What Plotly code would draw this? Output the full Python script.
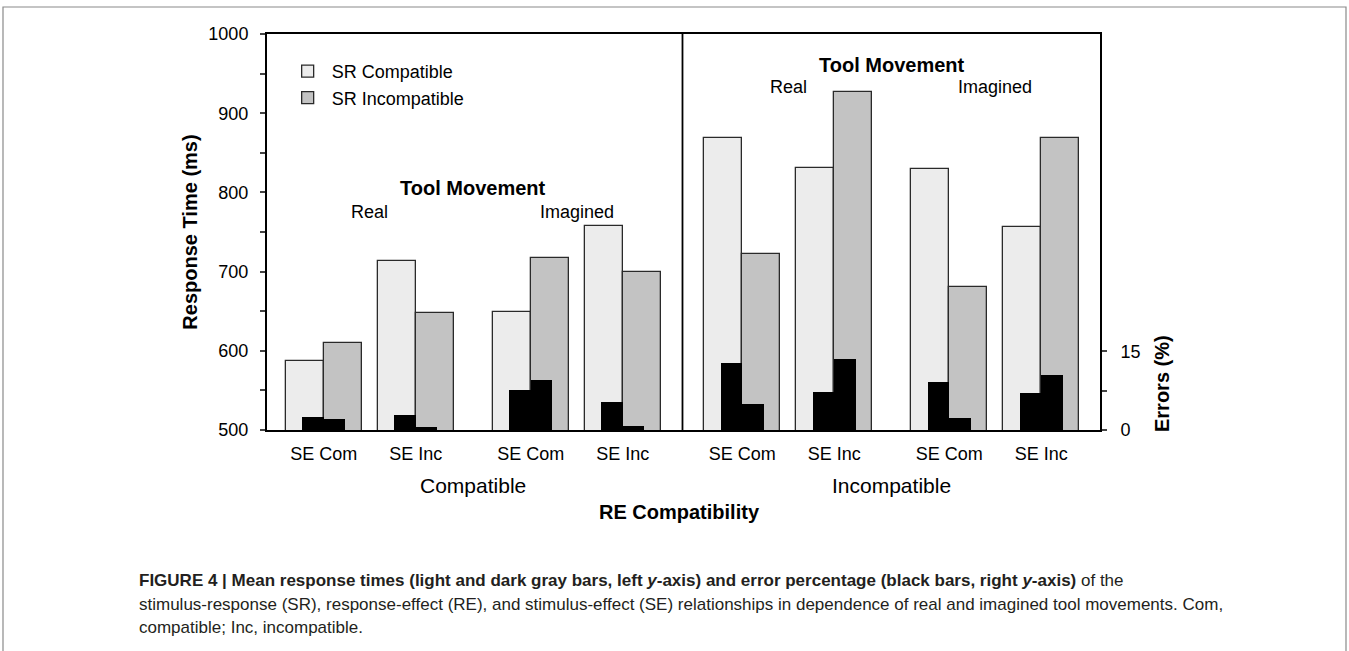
import plotly.graph_objects as go

# ---------------- data ----------------
se_labels = ["SE Com", "SE Inc", "SE Com", "SE Inc", "SE Com", "SE Inc", "SE Com", "SE Inc"]
tool_labels = ["Real", "Imagined", "Real", "Imagined"]
re_labels = ["Compatible", "Incompatible"]

sr_com_rt = [587, 713, 649, 757, 869, 831, 829, 756]
sr_inc_rt = [610, 648, 717, 700, 722, 927, 681, 869]
sr_com_err = [2.4, 2.8, 7.7, 5.4, 12.7, 7.2, 9.2, 7.1]
sr_inc_err = [2.1, 0.6, 9.5, 0.8, 4.9, 13.6, 2.3, 10.4]

# ---------------- layout of categories (SE within Tool within RE) ----------------
step_se, gap_tool, gap_re = 1.0, 1.25, 1.3
pos = []
p = 0.0
for i in range(8):
    if i > 0:
        if i % 4 == 0:
            p += gap_re
        elif i % 2 == 0:
            p += gap_tool
        else:
            p += step_se
    pos.append(p)

gw = 0.413   # gray bar width
bw = 0.234   # black bar width

FONT = "Liberation Sans, Arial, Helvetica, sans-serif"
LIGHT = "#ececec"
DARK = "#c3c3c3"
OUT = "#2a2a2a"

fig = go.Figure()
fig.add_trace(go.Bar(x=[v - gw / 2 for v in pos], y=sr_com_rt, width=gw, name="SR Compatible",
                     marker=dict(color=LIGHT, line=dict(color=OUT, width=1.3)),
                     legendgroup="a", yaxis="y"))
fig.add_trace(go.Bar(x=[v + gw / 2 for v in pos], y=sr_inc_rt, width=gw, name="SR Incompatible",
                     marker=dict(color=DARK, line=dict(color=OUT, width=1.3)),
                     legendgroup="b", yaxis="y"))
fig.add_trace(go.Bar(x=[v - bw / 2 for v in pos], y=sr_com_err, width=bw, name="Errors SR Compatible",
                     marker=dict(color="black", line=dict(width=0)), showlegend=False, yaxis="y2"))
fig.add_trace(go.Bar(x=[v + bw / 2 for v in pos], y=sr_inc_err, width=bw, name="Errors SR Incompatible",
                     marker=dict(color="black", line=dict(width=0)), showlegend=False, yaxis="y2"))

# pixel helpers relative to the plot area (plot is 833 x 396 px)
def px_x(px):
    return (px - 267) / 833

def px_y(py):
    return (430 - py) / 396

ann = []
tool_y = [805, 961]
sub_y = [775, 933]
for r in range(2):
    c = (pos[4 * r] + pos[4 * r + 3]) / 2
    ann.append(dict(x=c, y=tool_y[r], xref="x", yref="y", text="<b>Tool Movement</b>", showarrow=False,
                    xanchor="center", yanchor="middle",
                    font=dict(size=20, family=FONT, color="black")))
    for t in range(2):
        cc = (pos[4 * r + 2 * t] + pos[4 * r + 2 * t + 1]) / 2
        ann.append(dict(x=cc, y=sub_y[r], xref="x", yref="y", text=tool_labels[2 * r + t], showarrow=False,
                        xanchor="center", yanchor="middle",
                        font=dict(size=18, family=FONT, color="black")))
    ann.append(dict(x=c, y=px_y(485), xref="x", yref="paper", text=re_labels[r], showarrow=False,
                    xanchor="center", yanchor="middle",
                    font=dict(size=21, family=FONT, color="black")))

ann.append(dict(x=px_x(679), y=px_y(512), xref="paper", yref="paper", text="<b>RE Compatibility</b>",
                showarrow=False, xanchor="center", yanchor="middle",
                font=dict(size=20, family=FONT, color="black")))
ann.append(dict(x=px_x(1162), y=px_y(384), xref="paper", yref="paper", text="<b>Errors (%)</b>",
                showarrow=False, textangle=-90, xanchor="center", yanchor="middle",
                font=dict(size=20, family=FONT, color="black")))

cap_font = dict(size=17, family=FONT, color="#231f20")
cap_lines = [
    "<b>FIGURE 4 | Mean response times (light and dark gray bars, left <i>y</i>-axis) "
    "and error percentage (black bars, right <i>y</i>-axis)</b> of the",
    "stimulus-response (SR), response-effect (RE), and stimulus-effect (SE) relationships in dependence of "
    "real and imagined tool movements. Com,",
    "compatible; Inc, incompatible.",
]
cap_y = [580, 604, 627]
for txt, yy in zip(cap_lines, cap_y):
    ann.append(dict(x=px_x(137), y=px_y(yy), xref="paper", yref="paper", text=txt,
                    showarrow=False, xanchor="left", yanchor="middle", align="left", font=cap_font))

divider = (pos[3] + pos[4]) / 2
shapes = [
    dict(type="line", xref="x", yref="paper", x0=divider, x1=divider, y0=0, y1=1,
         line=dict(color="black", width=1.8)),
    dict(type="rect", xref="paper", yref="paper", x0=px_x(3), x1=px_x(1346),
         y0=px_y(700), y1=px_y(7), line=dict(color="#8a8a8a", width=1.2), layer="below"),
]

fig.update_layout(
    width=1349, height=651,
    margin=dict(l=267, r=249, t=34, b=221, autoexpand=False),
    paper_bgcolor="white", plot_bgcolor="white",
    barmode="overlay", bargap=0,
    font=dict(family=FONT, color="black"),
    showlegend=True,
    legend=dict(x=0.02, y=px_y(53), xanchor="left", yanchor="top", bgcolor="rgba(0,0,0,0)",
                font=dict(size=18, family=FONT), itemwidth=38, tracegroupgap=0, traceorder="grouped"),
    xaxis=dict(range=[pos[0] - 0.616, pos[-1] + 0.638], tickvals=pos, ticktext=se_labels,
               showline=True, mirror=True, linecolor="black", linewidth=2, ticks="",
               ticklabelstandoff=6, tickfont=dict(size=18, family=FONT), showgrid=False, zeroline=False,
               automargin=False),
    yaxis=dict(range=[500, 1000], tickvals=[500, 600, 700, 800, 900, 1000], ticks="outside", ticklen=5,
               tickwidth=1.5, minor=dict(dtick=50, ticks="outside", ticklen=5, tickwidth=1.5),
               showline=True, linecolor="black", linewidth=2, showgrid=False, zeroline=False,
               tickfont=dict(size=18, family=FONT), ticklabelstandoff=8, automargin=False,
               title=dict(text="<b>Response Time (ms)</b>", font=dict(size=20, family=FONT), standoff=5)),
    yaxis2=dict(overlaying="y", side="right", range=[0, 75.4], tickvals=[0, 15], ticks="outside", ticklen=5,
                tickwidth=1.5, minor=dict(tickvals=[7.5], ticks="outside", ticklen=5, tickwidth=1.5),
                showline=True, linecolor="black", linewidth=2, showgrid=False, zeroline=False,
                tickfont=dict(size=18, family=FONT), ticklabelstandoff=10, automargin=False),
    annotations=ann,
    shapes=shapes,
)

fig.write_html("out.html", config={"displayModeBar": False},
               post_script="document.body.style.margin='0px';")
